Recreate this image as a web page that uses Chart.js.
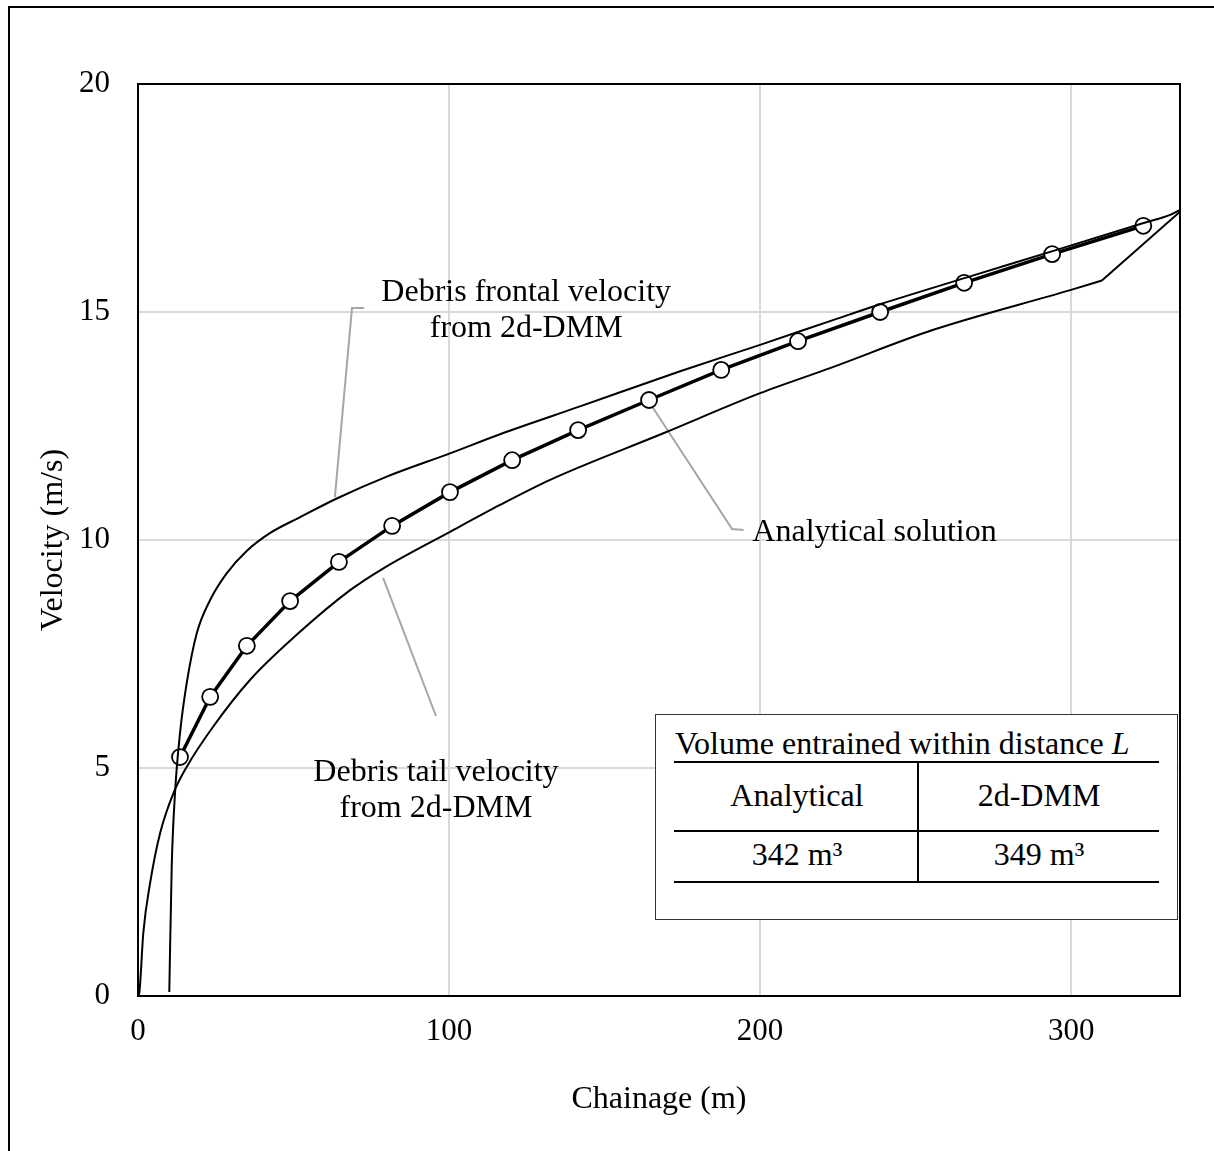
<!DOCTYPE html>
<html lang="en">
<head>
    <meta charset="UTF-8">
    <title>Velocity vs Chainage</title>
    <script src="https://cdn.jsdelivr.net/npm/chart.js"></script>
    <style>
        html, body { margin: 0; padding: 0; background: #fff; overflow: hidden; }
        .wrap { position: relative; width: 1214px; height: 1151px; overflow: hidden; }
        .frame { position: absolute; left: 8px; top: 6px; width: 1300px; height: 1300px; border: 2px solid #000; }
        canvas { position: absolute; left: 0; top: 0; }
        .vol-box {
            position: absolute; left: 655px; top: 714px; width: 523px; height: 206px;
            border: 1.5px solid #333; box-sizing: border-box; background: #fff;
            font-family: "Liberation Serif", "Times New Roman", serif; font-size: 32px; color: #000;
        }
        .vol-box .t { position: absolute; left: 19px; top: 10px; white-space: nowrap; }
        .vol-box .rule { position: absolute; left: 18px; width: 485px; height: 2px; background: #000; }
        .vol-box .sep { position: absolute; left: 261px; top: 46px; width: 2px; height: 122px; background: #000; }
        .vol-box .c { position: absolute; width: 242px; text-align: center; white-space: nowrap; }
    </style>
</head>
<body>
    <div class="wrap">
        <div class="frame"></div>
        <canvas id="velocityChart" width="1214" height="1151"></canvas>

        <!-- Volume table -->
        <div class="vol-box">
            <div class="t">Volume entrained within distance <i>L</i></div>
            <div class="rule" style="top: 46px;"></div>
            <div class="sep"></div>
            <div class="c" style="left: 20px; top: 62px;">Analytical</div>
            <div class="c" style="left: 262px; top: 62px;">2d-DMM</div>
            <div class="rule" style="top: 115px;"></div>
            <div class="c" style="left: 20px; top: 121px;">342 m³</div>
            <div class="c" style="left: 262px; top: 121px;">349 m³</div>
            <div class="rule" style="top: 166px;"></div>
        </div>
    </div>

    <script>
        // Analytical solution (markers)
        const analyticalX = [13.5, 23.2, 35.0, 48.9, 64.6, 81.7, 100.3, 120.3, 141.5, 164.3, 187.5, 212.2, 238.6, 265.6, 293.9, 323.2];
        const analyticalY = [5.24, 6.56, 7.68, 8.66, 9.52, 10.31, 11.05, 11.75, 12.41, 13.07, 13.73, 14.36, 15.0, 15.64, 16.27, 16.89];

        // Debris frontal velocity from 2d-DMM
        const frontalX = [10.06, 10.84, 11.9, 13.5, 15.66, 18.87, 23.15, 28.5, 34.95, 42.4, 52.1, 63.9, 80.0, 100.3, 116.4, 142.1, 174.3, 200, 222.5, 238.6, 266.5, 294.3, 323.3, 331.8, 335];
        const frontalY = [0.09, 2.84, 4.45, 5.76, 6.86, 7.95, 8.68, 9.27, 9.76, 10.15, 10.50, 10.91, 11.39, 11.90, 12.32, 12.93, 13.70, 14.28, 14.80, 15.17, 15.76, 16.34, 16.95, 17.13, 17.24];

        // Debris tail velocity from 2d-DMM (curved part, then straight run to the end)
        const tailX = [0, 0.4, 1.7, 3.9, 7.1, 11.4, 15.7, 24.2, 36.0, 51.0, 68.2, 78.9, 100.3, 116.4, 132.5, 168.9, 200, 222.5, 255.7, 299.7, 309.9, 335];
        const tailY = [0, 0.06, 1.38, 2.48, 3.57, 4.45, 5.03, 5.91, 6.93, 7.92, 8.90, 9.38, 10.18, 10.77, 11.32, 12.34, 13.22, 13.77, 14.61, 15.48, 15.69, 17.20];
        const tailKink = 20; // index where the tail turns into a straight segment

        // Axis ticks
        const xTicks = [0, 100, 200, 300];
        const yTicks = [0, 5, 10, 15, 20];

        const toPoints = (xs, ys) => xs.map((x, i) => ({ x: x, y: ys[i] }));

        const FONT = '"Liberation Serif", "Times New Roman", serif';

        // Callout labels and their leader lines (data units)
        const notes = [
            { lines: ['Debris frontal velocity', 'from 2d-DMM'], x: 124.8, y: 15.42, align: 'center',
              leader: [[63.3, 10.94], [68.8, 15.09], [72.7, 15.09]] },
            { lines: ['Analytical solution'], x: 197.5, y: 10.16, align: 'left',
              leader: [[164.6, 13.0], [191.0, 10.24], [194.7, 10.22]] },
            { lines: ['Debris tail velocity', 'from 2d-DMM'], x: 95.8, y: 4.89, align: 'center',
              leader: [[78.8, 9.17], [95.8, 6.14]] }
        ];

        const calloutPlugin = {
            id: 'callouts',
            beforeDatasetsDraw(chart) {
                const { ctx, scales: { x, y } } = chart;
                ctx.save();
                ctx.strokeStyle = '#a6a6a6';
                ctx.lineWidth = 2;
                notes.forEach(n => {
                    ctx.beginPath();
                    n.leader.forEach((p, i) => {
                        const px = x.getPixelForValue(p[0]);
                        const py = y.getPixelForValue(p[1]);
                        if (i === 0) ctx.moveTo(px, py); else ctx.lineTo(px, py);
                    });
                    ctx.stroke();
                });
                ctx.restore();
            },
            afterDraw(chart) {
                const { ctx, chartArea, scales: { x, y } } = chart;
                ctx.save();
                // frame round the plot area
                ctx.strokeStyle = '#000';
                ctx.lineWidth = 2;
                ctx.strokeRect(chartArea.left, chartArea.top, chartArea.right - chartArea.left, chartArea.bottom - chartArea.top);

                ctx.fillStyle = '#000';
                ctx.font = '32px ' + FONT;
                ctx.textBaseline = 'middle';
                notes.forEach(n => {
                    ctx.textAlign = n.align;
                    const px = x.getPixelForValue(n.x);
                    const py = y.getPixelForValue(n.y);
                    n.lines.forEach((t, i) => ctx.fillText(t, px, py + i * 36));
                });
                ctx.restore();
            }
        };

        const lineStyle = {
            showLine: true,
            borderColor: '#000',
            borderWidth: 2,
            pointRadius: 0
        };

        const ctx = document.getElementById('velocityChart').getContext('2d');
        const velocityChart = new Chart(ctx, {
            type: 'scatter',
            data: {
                datasets: [
                    Object.assign({
                        label: 'Debris tail velocity from 2d-DMM',
                        data: toPoints(tailX.slice(0, tailKink + 1), tailY.slice(0, tailKink + 1)),
                        cubicInterpolationMode: 'monotone'
                    }, lineStyle),
                    Object.assign({
                        label: 'Debris tail velocity (end)',
                        data: toPoints(tailX.slice(tailKink), tailY.slice(tailKink)),
                        tension: 0
                    }, lineStyle),
                    Object.assign({
                        label: 'Debris frontal velocity from 2d-DMM',
                        data: toPoints(frontalX, frontalY),
                        cubicInterpolationMode: 'monotone'
                    }, lineStyle),
                    {
                        label: 'Analytical solution',
                        data: toPoints(analyticalX, analyticalY),
                        showLine: true,
                        borderColor: '#000',
                        borderWidth: 3.5,
                        pointRadius: 8,
                        pointBackgroundColor: '#fff',
                        pointBorderColor: '#000',
                        pointBorderWidth: 1.8,
                        tension: 0
                    }
                ]
            },
            options: {
                responsive: false,
                animation: false,
                layout: { padding: { left: 0, top: 84, right: 34, bottom: 0 } },
                plugins: {
                    legend: { display: false },
                    tooltip: { enabled: false }
                },
                scales: {
                    x: {
                        type: 'linear',
                        min: 0,
                        max: 335,
                        afterFit: s => { s.height = 155; },
                        afterBuildTicks: s => { s.ticks = xTicks.map(v => ({ value: v })); },
                        grid: { color: '#d9d9d9', lineWidth: 2, drawTicks: false },
                        border: { display: false },
                        ticks: { color: '#000', font: { family: FONT, size: 31 }, padding: 17 },
                        title: {
                            display: true,
                            text: 'Chainage (m)',
                            color: '#000',
                            font: { family: FONT, size: 32 },
                            padding: { top: 0, bottom: 32 }
                        }
                    },
                    y: {
                        type: 'linear',
                        min: 0,
                        max: 20,
                        afterFit: s => { s.width = 138; },
                        afterBuildTicks: s => { s.ticks = yTicks.map(v => ({ value: v })); },
                        grid: { color: '#d9d9d9', lineWidth: 2, drawTicks: false },
                        border: { display: false },
                        ticks: { color: '#000', font: { family: FONT, size: 31 }, padding: 28 },
                        title: {
                            display: true,
                            text: 'Velocity (m/s)',
                            color: '#000',
                            font: { family: FONT, size: 32 },
                            padding: { top: 34, bottom: 0 }
                        }
                    }
                }
            },
            plugins: [calloutPlugin]
        });
    </script>
</body>
</html>
